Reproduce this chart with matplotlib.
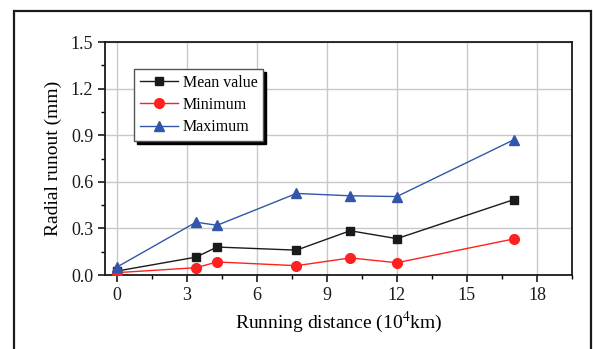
import matplotlib
matplotlib.use("Agg")
import matplotlib.pyplot as plt
from matplotlib.patches import Rectangle
from matplotlib.ticker import MultipleLocator, FormatStrFormatter

# running distance in 10^4 km
distance = [0, 3.4, 4.3, 7.7, 10, 12, 17]
mean_runout = [0.025, 0.115, 0.18, 0.16, 0.285, 0.234, 0.485]
min_runout = [0.015, 0.047, 0.084, 0.06, 0.11, 0.079, 0.232]
max_runout = [0.05, 0.34, 0.32, 0.525, 0.51, 0.505, 0.87]

plt.rcParams['font.family'] = ['Liberation Serif', 'DejaVu Serif']
plt.rcParams['mathtext.fontset'] = 'stix'

fig = plt.figure(figsize=(5.93, 3.49), dpi=100)
ax = fig.add_axes([105 / 593, 1 - 275 / 349, 467 / 593, 233 / 349])

# outer frame around the whole panel
fig.patches.append(Rectangle((14 / 593, -0.05), 577 / 593, 1.05 - 11 / 349,
                             transform=fig.transFigure, fill=False,
                             edgecolor='#1a1a1a', linewidth=1.6))

ax.plot(distance, mean_runout, color='#1a1a1a', lw=1.0, marker='s', ms=6,
        label='Mean value', zorder=3)
ax.plot(distance, min_runout, color='#ff2020', lw=1.0, marker='o', ms=7,
        label='Minimum', zorder=3)
ax.plot(distance, max_runout, color='#3355aa', lw=1.0, marker='^', ms=7,
        label='Maximum', zorder=3)

ax.set_xlim(-0.5, 19.5)
ax.set_ylim(0, 1.5)
ax.xaxis.set_major_locator(MultipleLocator(3))
ax.xaxis.set_minor_locator(MultipleLocator(1.5))
ax.yaxis.set_major_locator(MultipleLocator(0.3))
ax.yaxis.set_minor_locator(MultipleLocator(0.15))
ax.yaxis.set_major_formatter(FormatStrFormatter('%.1f'))
ax.tick_params(which='major', direction='out', length=5, width=1.2,
               labelsize=13, colors='#1a1a1a')
ax.tick_params(which='minor', direction='out', length=3, width=1.0)
ax.tick_params(axis='x', pad=4)
ax.grid(True, which='major', color='#c8c8c8', lw=1.0, zorder=0)
for s in ax.spines.values():
    s.set_linewidth(1.3)
    s.set_color('#1a1a1a')

ax.set_xlabel('Running distance (10$^4$km)', fontsize=14, labelpad=4)
ax.set_ylabel('Radial runout (mm)', fontsize=14, labelpad=6)

leg = ax.legend(loc='upper left', bbox_to_anchor=(0.062, 0.884), borderaxespad=0,
                fontsize=11.5, frameon=True, fancybox=False,
                shadow={'color': 'black', 'alpha': 1},
                handlelength=2.4, handletextpad=0.3, labelspacing=0.4,
                borderpad=0.35, edgecolor='#555555')
leg.get_frame().set_linewidth(1.0)

fig.savefig('out.png', dpi=100)
